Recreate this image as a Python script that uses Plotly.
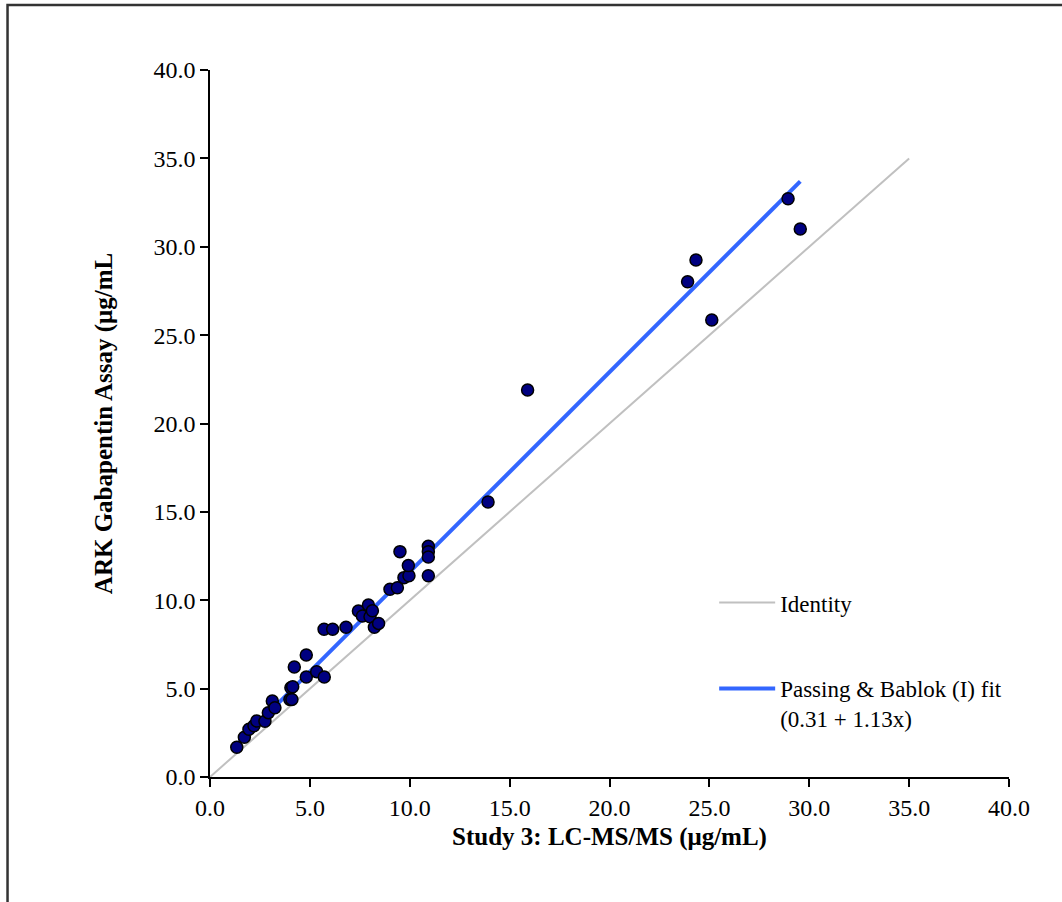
import plotly.graph_objects as go

# Data
lcms_x = [1.34, 1.72, 1.95, 2.20, 2.34, 2.75, 2.92, 3.12, 3.25, 4.00, 4.10, 4.05, 4.14,
          4.22, 4.82, 4.82, 5.34, 5.72, 5.71, 6.14, 6.81, 7.43, 7.63, 7.93, 8.01, 8.13,
          8.23, 8.44, 9.01, 9.38, 9.51, 9.71, 9.96, 9.93, 10.93, 10.93, 10.93, 10.93,
          13.92, 15.90, 23.91, 24.33, 25.12, 28.94, 29.55]
ark_y = [1.68, 2.25, 2.70, 2.90, 3.17, 3.15, 3.64, 4.30, 3.92, 4.39, 4.39, 5.05, 5.11,
         6.22, 5.66, 6.90, 5.96, 5.66, 8.36, 8.36, 8.47, 9.39, 9.11, 9.73, 9.07, 9.41,
         8.47, 8.69, 10.62, 10.71, 12.75, 11.28, 11.39, 11.96, 13.05, 12.75, 12.45, 11.39,
         15.56, 21.90, 28.02, 29.25, 25.86, 32.72, 31.00]

identity_x = [0.0, 35.0]
fit_intercept = 0.31
fit_slope = 1.13
axis_ticks = [0, 5, 10, 15, 20, 25, 30, 35, 40]

fit_x = [min(lcms_x), max(lcms_x)]
fit_y = [fit_intercept + fit_slope * v for v in fit_x]

FONT = "Liberation Serif, Times New Roman, serif"

fig = go.Figure()
fig.add_trace(go.Scatter(
    x=identity_x, y=identity_x, mode="lines", name="Identity",
    line=dict(color="#c0c0c0", width=2), legendgroup="a"))
fig.add_trace(go.Scatter(
    x=fit_x, y=fit_y, mode="lines",
    name="Passing & Bablok (I) fit<br>(0.31 + 1.13x)",
    line=dict(color="#3366ff", width=4), legendgroup="b"))
fig.add_trace(go.Scatter(
    x=lcms_x, y=ark_y, mode="markers", showlegend=False,
    marker=dict(size=12, color="#000080", line=dict(color="black", width=1.5))))

axis_common = dict(
    range=[0, 40], tickvals=axis_ticks, tickformat=".1f",
    showgrid=False, zeroline=False, showline=True, linecolor="black", linewidth=1.5,
    ticks="outside", ticklen=8, tickwidth=1.5, tickcolor="black",
    tickfont=dict(family=FONT, size=24, color="black"),
)

fig.update_layout(
    width=1062, height=902,
    margin=dict(l=210, r=53, t=70, b=125),
    paper_bgcolor="white", plot_bgcolor="white",
    font=dict(family=FONT, color="black"),
    xaxis=dict(**axis_common,
               title=dict(text="<b>Study 3: LC-MS/MS (μg/mL)</b>",
                          font=dict(family=FONT, size=25), standoff=8)),
    yaxis=dict(**axis_common,
               title=dict(text="<b>ARK Gabapentin Assay (μg/mL</b>",
                          font=dict(family=FONT, size=25), standoff=34)),
    showlegend=True,
    legend=dict(x=0.631, y=0.277, xanchor="left", yanchor="top",
                bgcolor="rgba(0,0,0,0)", tracegroupgap=53, valign="top",
                font=dict(family=FONT, size=23, color="black"),
                itemwidth=56),
    shapes=[dict(type="rect", xref="paper", yref="paper",
                 x0=-0.2534, x1=1.09, y0=-0.2, y1=1.092,
                 line=dict(color="#333333", width=2.5), layer="below")],
)

fig.write_html("out.html",
               config={"displayModeBar": False},
               post_script="document.body.style.margin='0';document.body.style.overflow='hidden';")
